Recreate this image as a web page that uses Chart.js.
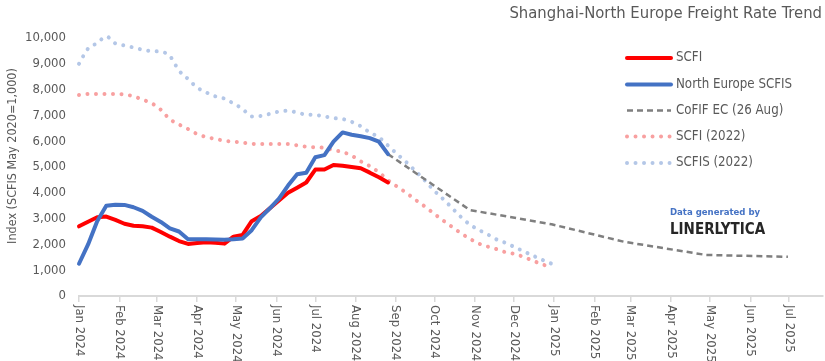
<!DOCTYPE html>
<html>
<head>
<meta charset="utf-8">
<title>Shanghai-North Europe Freight Rate Trend</title>
<script src="https://cdn.jsdelivr.net/npm/chart.js@4.4.1/dist/chart.umd.min.js"></script>
<style>
  html, body { margin: 0; padding: 0; background: #ffffff; }
  #wrap { width: 825px; height: 361px; position: relative; }
</style>
</head>
<body>
<div id="wrap"><canvas id="chart" width="825" height="361"></canvas></div>
<script>
// ---- Data -------------------------------------------------------------
// Month ticks on the date axis
const monthLabels = ['Jan 2024', 'Feb 2024', 'Mar 2024', 'Apr 2024', 'May 2024', 'Jun 2024',
  'Jul 2024', 'Aug 2024', 'Sep 2024', 'Oct 2024', 'Nov 2024', 'Dec 2024',
  'Jan 2025', 'Feb 2025', 'Mar 2025', 'Apr 2025', 'May 2025', 'Jun 2025', 'Jul 2025'];
const monthStarts = ['2024-01-01', '2024-02-01', '2024-03-01', '2024-04-01', '2024-05-01', '2024-06-01',
  '2024-07-01', '2024-08-01', '2024-09-01', '2024-10-01', '2024-11-01', '2024-12-01',
  '2025-01-01', '2025-02-01', '2025-03-01', '2025-04-01', '2025-05-01', '2025-06-01', '2025-07-01'];
const axisStart = '2024-01-01';
const axisEnd = '2025-07-27';

// Weekly series (first week = 1 Jan, weekly steps)
const weekStart = '2024-01-01';
const scfi = [2700, 2880, 3050, 3080, 2950, 2800, 2720, 2700, 2650, 2480,
  2300, 2130, 2020, 2050, 2080, 2060, 2030, 2300, 2370, 2900,
  3100, 3400, 3700, 4000, 4200, 4400, 4900, 4900, 5080, 5050,
  5000, 4950, 4780, 4600, 4400];
const scfis = [1250, 2000, 2900, 3500, 3540, 3530, 3440, 3300, 3070, 2870,
  2620, 2500, 2200, 2200, 2200, 2190, 2180, 2200, 2230, 2550,
  3050, 3400, 3770, 4280, 4720, 4780, 5380, 5460, 5980, 6340,
  6250, 6190, 6120, 5980, 5500];
const scfi2022 = [7790, 7829, 7829, 7829, 7829, 7810, 7740, 7610, 7470, 7220,
  6850, 6650, 6470, 6280, 6160, 6090, 6020, 5980, 5940, 5900,
  5891, 5891, 5891, 5891, 5840, 5790, 5762, 5740, 5650, 5580,
  5440, 5220, 5030, 4790, 4490, 4240, 4000, 3735, 3480, 3210,
  2940, 2690, 2440, 2220, 2030, 1910, 1810, 1690, 1628, 1500,
  1360, 1220, 1120];
const scfis2022 = [9000, 9590, 9800, 10060, 9790, 9710, 9630, 9545, 9490, 9470,
  9300, 8740, 8410, 8080, 7890, 7740, 7650, 7460, 7250, 6960,
  6975, 7060, 7150, 7180, 7110, 7030, 7016, 6960, 6895, 6860,
  6750, 6580, 6340, 6150, 5830, 5500, 5190, 4850, 4500, 4110,
  3780, 3430, 3070, 2770, 2560, 2380, 2180, 2050, 1880, 1720,
  1555, 1395, 1250];

// CoFIF EC futures curve as of 26 Aug
const cofifDates = ['2024-08-26', '2024-10-28', '2024-12-30', '2025-02-24', '2025-04-28', '2025-06-30'];
const cofifValues = [5500, 3333, 2780, 2100, 1590, 1520];

const yTicks = [0, 1000, 2000, 3000, 4000, 5000, 6000, 7000, 8000, 9000, 10000];

// ---- Helpers ----------------------------------------------------------
const DAY = 86400000;
const dayOf = s => (Date.parse(s + 'T00:00:00Z') - Date.parse(axisStart + 'T00:00:00Z')) / DAY;
const weekly = values => values.map((v, i) => ({ x: dayOf(weekStart) + 7 * i, y: v }));
const dated = (dates, values) => values.map((v, i) => ({ x: dayOf(dates[i]), y: v }));

const FONT = "'Liberation Sans Narrow', 'DejaVu Sans Condensed', 'Roboto Condensed', Roboto, sans-serif";
const TEXT = '#595959';

const series = [
  { label: 'SCFI', data: weekly(scfi), borderColor: '#FF0000', borderWidth: 4, borderDash: [], order: 1 },
  { label: 'North Europe SCFIS', data: weekly(scfis), borderColor: '#4472C4', borderWidth: 4, borderDash: [], order: 0 },
  { label: 'CoFIF EC (26 Aug)', data: dated(cofifDates, cofifValues), borderColor: '#7F7F7F', borderWidth: 2.5, borderDash: [6, 4], order: 2, cap: 'butt' },
  { label: 'SCFI (2022)', data: weekly(scfi2022), borderColor: '#F8A0A0', borderWidth: 4, borderDash: [0.01, 8.5], order: 3, smooth: true },
  { label: 'SCFIS (2022)', data: weekly(scfis2022), borderColor: '#B4C7E7', borderWidth: 4, borderDash: [0.01, 8.5], order: 4, smooth: true }
];

// ---- Custom text: title, legend, axis labels, credit ------------------
const overlay = {
  id: 'overlay',
  afterDraw(chart) {
    const ctx = chart.ctx;
    const xs = chart.scales.x;
    const area = chart.chartArea;
    ctx.save();

    // Title
    ctx.fillStyle = TEXT;
    ctx.font = `16.5px ${FONT}`;
    ctx.textAlign = 'right';
    ctx.textBaseline = 'middle';
    ctx.fillText('Shanghai-North Europe Freight Rate Trend', 822, 14);

    // Y axis title
    ctx.save();
    ctx.translate(13, 156);
    ctx.rotate(-Math.PI / 2);
    ctx.textAlign = 'center';
    ctx.font = `12.5px ${FONT}`;
    ctx.fillText('Index (SCFIS May 2020=1,000)', 0, 0);
    ctx.restore();

    // Month labels, rotated to read top-down
    ctx.font = `13px ${FONT}`;
    ctx.fillStyle = TEXT;
    monthLabels.forEach((lab, i) => {
      const x = xs.getPixelForValue(dayOf(monthStarts[i]));
      ctx.save();
      ctx.translate(x, area.bottom + 9);
      ctx.rotate(Math.PI / 2);
      ctx.textAlign = 'left';
      ctx.textBaseline = 'middle';
      ctx.fillText(lab, 0, 0);
      ctx.restore();
    });

    // Legend
    const rows = [58, 84.5, 110.5, 136.5, 163];
    chart.data.datasets.forEach((ds, i) => {
      const y = rows[i];
      ctx.save();
      ctx.strokeStyle = ds.borderColor;
      ctx.lineWidth = ds.borderWidth;
      ctx.lineCap = ds.borderCapStyle;
      ctx.setLineDash(ds.borderDash);
      ctx.beginPath();
      ctx.moveTo(627, y);
      ctx.lineTo(671, y);
      ctx.stroke();
      ctx.restore();
      ctx.fillStyle = TEXT;
      ctx.font = `13.2px ${FONT}`;
      ctx.textAlign = 'left';
      ctx.textBaseline = 'middle';
      ctx.fillText(ds.label, 676, y);
    });

    // Credit
    ctx.textAlign = 'left';
    ctx.textBaseline = 'middle';
    ctx.fillStyle = '#4472C4';
    ctx.font = `bold 9.5px ${FONT}`;
    ctx.fillText('Data generated by', 670, 213);
    ctx.fillStyle = '#262626';
    ctx.font = `bold 15px ${FONT}`;
    ctx.fillText('LINERLYTICA', 670, 230);

    ctx.restore();
  }
};

new Chart(document.getElementById('chart'), {
  type: 'line',
  data: {
    datasets: series.map(s => ({
      label: s.label,
      data: s.data,
      borderColor: s.borderColor,
      backgroundColor: s.borderColor,
      borderWidth: s.borderWidth,
      borderDash: s.borderDash,
      borderCapStyle: s.cap || 'round',
      borderJoinStyle: 'round',
      pointRadius: 0,
      fill: false,
      order: s.order,
      cubicInterpolationMode: s.smooth ? 'monotone' : 'default',
      tension: 0,
      clip: false
    }))
  },
  options: {
    responsive: false,
    animation: false,
    devicePixelRatio: 1,
    layout: { padding: { top: 38, right: 2, left: 0, bottom: 0 } },
    plugins: {
      legend: { display: false },
      title: { display: false },
      tooltip: { enabled: false }
    },
    scales: {
      x: {
        type: 'linear',
        min: dayOf(axisStart),
        max: dayOf(axisEnd),
        afterBuildTicks: axis => { axis.ticks = monthStarts.map(d => ({ value: dayOf(d) })); },
        afterFit: axis => { axis.height = 65; },
        ticks: { display: false },
        grid: { display: true, drawOnChartArea: false, drawTicks: true, tickLength: 6, color: '#D9D9D9', lineWidth: 1.5 },
        border: { display: true, color: '#D9D9D9', width: 2 }
      },
      y: {
        min: 0,
        max: 10000,
        afterBuildTicks: axis => { axis.ticks = yTicks.map(v => ({ value: v })); },
        afterFit: axis => { axis.width = 79; },
        ticks: {
          color: TEXT,
          padding: 5,
          font: { family: FONT, size: 13 },
          callback: v => v.toLocaleString('en-US')
        },
        grid: { display: false },
        border: { display: false },
        title: { display: false }
      }
    }
  },
  plugins: [overlay]
});
</script>
</body>
</html>
